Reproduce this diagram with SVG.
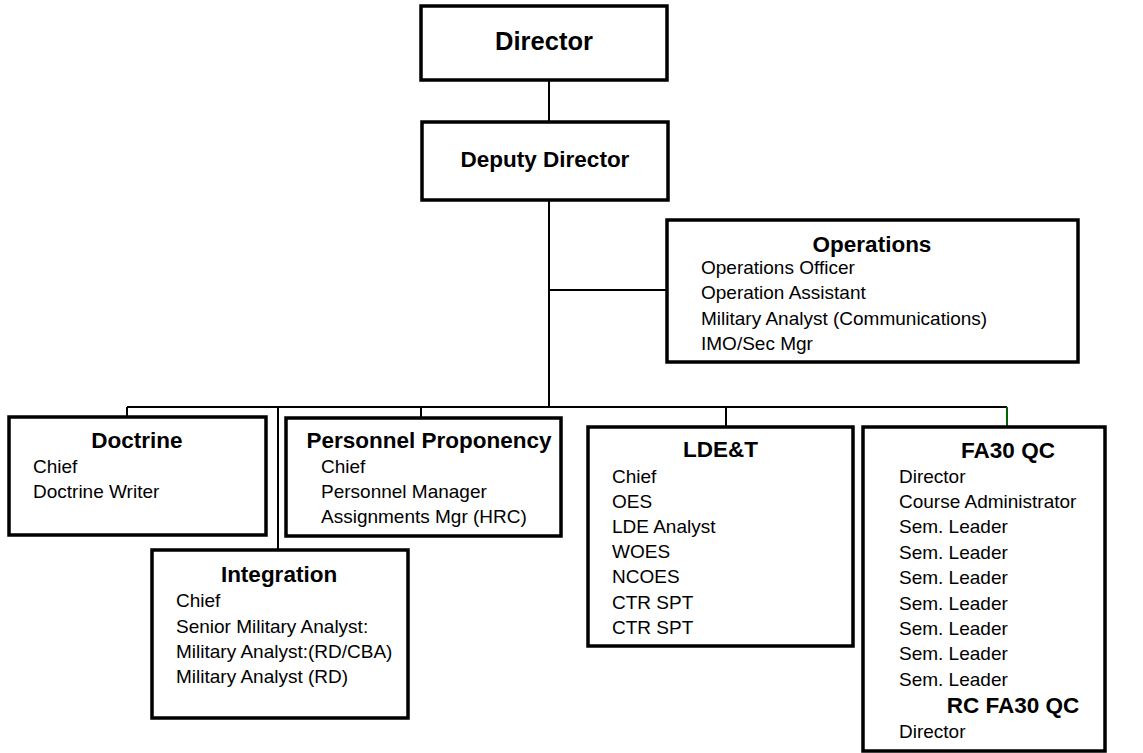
<svg xmlns="http://www.w3.org/2000/svg" width="1143" height="753" viewBox="0 0 1143 753">
<style>
.box{fill:#fff;stroke:#000;stroke-width:3.5}
.ln{stroke:#000;stroke-width:2;fill:none}
text{font-family:"Liberation Sans",Arial,sans-serif;fill:#000}
.h{font-weight:bold;font-size:22.5px;text-anchor:middle}
.t{font-size:19px}
</style>
<rect width="1143" height="753" fill="#fff"/>
<g id="connectors">
<line class="ln" x1="549" y1="80" x2="549" y2="122"/>
<line class="ln" x1="549" y1="200" x2="549" y2="407"/>
<line class="ln" x1="549" y1="290" x2="667" y2="290"/>
<line class="ln" x1="127" y1="407" x2="1007" y2="407"/>
<line class="ln" x1="127" y1="407" x2="127" y2="417"/>
<line class="ln" x1="421" y1="407" x2="421" y2="418"/>
<line class="ln" x1="278" y1="407" x2="278" y2="550"/>
<line class="ln" x1="726" y1="407" x2="726" y2="427"/>
<line x1="1007" y1="407" x2="1007" y2="427" stroke="#006400" stroke-width="2"/>
</g>
<g id="director">
<rect class="box" x="421" y="6" width="246" height="74"/>
<text x="544" y="50" style="font-weight:bold;font-size:25.5px;text-anchor:middle">Director</text>
</g>
<g id="deputy">
<rect class="box" x="422" y="122" width="246" height="78"/>
<text x="545" y="167" style="font-weight:bold;font-size:22.5px;text-anchor:middle">Deputy Director</text>
</g>
<g id="operations">
<rect class="box" x="667" y="220" width="411" height="142"/>
<text class="h" x="872" y="252">Operations</text>
<text class="t" x="701" y="274">Operations Officer</text>
<text class="t" x="701" y="299">Operation Assistant</text>
<text class="t" x="701" y="325">Military Analyst (Communications)</text>
<text class="t" x="701" y="350">IMO/Sec Mgr</text>
</g>
<g id="doctrine">
<rect class="box" x="9" y="417" width="257" height="118"/>
<text class="h" x="137" y="448">Doctrine</text>
<text class="t" x="33" y="473">Chief</text>
<text class="t" x="33" y="498">Doctrine Writer</text>
</g>
<g id="personnel">
<rect class="box" x="286" y="418" width="275" height="118"/>
<text class="h" x="429" y="448">Personnel Proponency</text>
<text class="t" x="321" y="473">Chief</text>
<text class="t" x="321" y="498">Personnel Manager</text>
<text class="t" x="321" y="523">Assignments Mgr (HRC)</text>
</g>
<g id="integration">
<rect class="box" x="152" y="550" width="256" height="168"/>
<text class="h" x="279" y="582">Integration</text>
<text class="t" x="176" y="607">Chief</text>
<text class="t" x="176" y="633">Senior Military Analyst:</text>
<text class="t" x="176" y="658">Military Analyst:(RD/CBA)</text>
<text class="t" x="176" y="683">Military Analyst (RD)</text>
</g>
<g id="ldet">
<rect class="box" x="588" y="427" width="265" height="219"/>
<text class="h" x="720.5" y="457">LDE&amp;T</text>
<text class="t" x="612" y="483">Chief</text>
<text class="t" x="612" y="508">OES</text>
<text class="t" x="612" y="533">LDE Analyst</text>
<text class="t" x="612" y="558">WOES</text>
<text class="t" x="612" y="583">NCOES</text>
<text class="t" x="612" y="609">CTR SPT</text>
<text class="t" x="612" y="634">CTR SPT</text>
</g>
<g id="fa30qc">
<rect class="box" x="863" y="427" width="242" height="324"/>
<text class="h" x="1008" y="458">FA30 QC</text>
<text class="t" x="899" y="483">Director</text>
<text class="t" x="899" y="508">Course Administrator</text>
<text class="t" x="899" y="533">Sem. Leader</text>
<text class="t" x="899" y="559">Sem. Leader</text>
<text class="t" x="899" y="584">Sem. Leader</text>
<text class="t" x="899" y="610">Sem. Leader</text>
<text class="t" x="899" y="635">Sem. Leader</text>
<text class="t" x="899" y="660">Sem. Leader</text>
<text class="t" x="899" y="686">Sem. Leader</text>
<text class="h" x="1013" y="713">RC FA30 QC</text>
<text class="t" x="899" y="738">Director</text>
</g>
</svg>
